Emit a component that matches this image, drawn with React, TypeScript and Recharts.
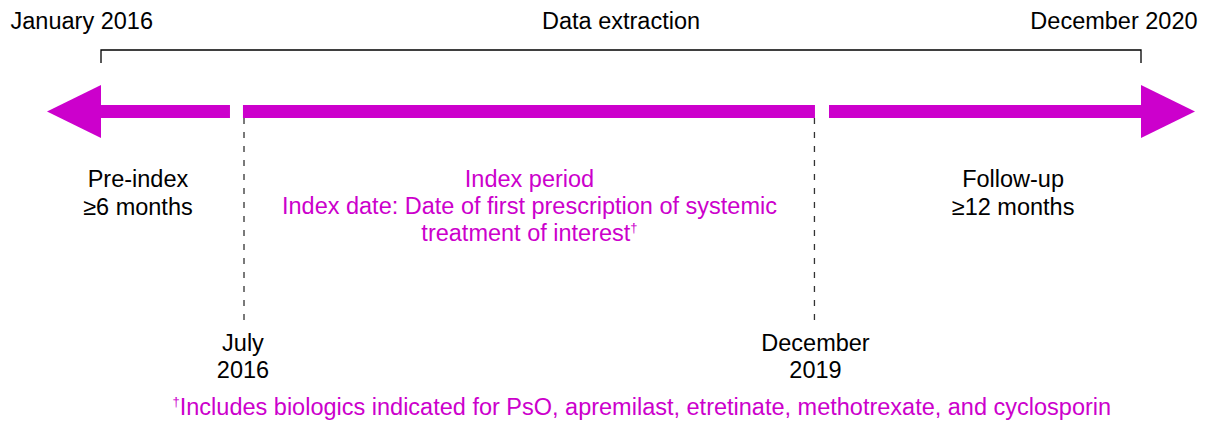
import { ComposedChart, XAxis, YAxis, Scatter } from "recharts";

// Schematic timeline: 0 = January 2016, 100 = December 2020 (not to scale)
const milestones = [
  { name: "July 2016", x: 13.75 },
  { name: "December 2019", x: 68.6 },
];

const bracket = [
  { x: 0, y: 6.3 },
  { x: 0, y: 5.0 },
  { x: 100, y: 5.0 },
  { x: 100, y: 6.3 },
];

const barSegments = [
  [0, 12.4],
  [13.65, 68.65],
  [70.0, 100],
];

const arrowHeads = [
  { x: 0, y: 11.15, dir: -1 },
  { x: 100, y: 11.15, dir: 1 },
];

const MAGENTA = "#cc00cc";

type Label = { x: number; y: number; text: string; color: string; dagger?: "pre" | "post" };

const labels: Label[] = [
  { x: -1.85, y: 2.9, text: "January 2016", color: "#000" },
  { x: 50, y: 2.9, text: "Data extraction", color: "#000" },
  { x: 97.4, y: 2.9, text: "December 2020", color: "#000" },
  { x: 3.55, y: 18.7, text: "Pre-index", color: "#000" },
  { x: 3.55, y: 21.5, text: "≥6 months", color: "#000" },
  { x: 41.2, y: 18.7, text: "Index period", color: MAGENTA },
  { x: 41.2, y: 21.4, text: "Index date: Date of first prescription of systemic", color: MAGENTA },
  { x: 41.2, y: 24.1, text: "treatment of interest", color: MAGENTA, dagger: "post" },
  { x: 87.7, y: 18.7, text: "Follow-up", color: "#000" },
  { x: 87.7, y: 21.5, text: "≥12 months", color: "#000" },
  { x: 13.65, y: 35.1, text: "July", color: "#000" },
  { x: 13.65, y: 37.8, text: "2016", color: "#000" },
  { x: 68.7, y: 35.1, text: "December", color: "#000" },
  { x: 68.7, y: 37.8, text: "2019", color: "#000" },
  {
    x: 52,
    y: 41.5,
    text: "Includes biologics indicated for PsO, apremilast, etretinate, methotrexate, and cyclosporin",
    color: MAGENTA,
    dagger: "pre",
  },
];

const FONT_SIZE = 23.5;

const noDot = () => null;

const ArrowHead = (props: any) => {
  const { cx, cy, payload } = props;
  const d = payload.dir;
  const pts = `${cx},${cy - 26.5} ${cx + d * 54},${cy} ${cx},${cy + 26.5}`;
  return <polygon points={pts} fill={MAGENTA} />;
};

const TextMark = (props: any) => {
  const { cx, cy, payload } = props;
  const p: Label = payload;
  const small = 13;
  return (
    <text
      x={cx}
      y={cy}
      textAnchor="middle"
      fill={p.color}
      fontSize={FONT_SIZE}
      fontFamily="'Liberation Sans', Arial, sans-serif"
    >
      {p.dagger === "pre" && (
        <tspan fontSize={small} dy={-9}>
          †
        </tspan>
      )}
      {p.dagger === "pre" ? <tspan dy={9}>{p.text}</tspan> : p.text}
      {p.dagger === "post" && (
        <tspan fontSize={small} dy={-9}>
          †
        </tspan>
      )}
    </text>
  );
};

export default function App() {
  return (
    <div style={{ position: "absolute", left: 0, top: 0, background: "#fff" }}>
      <ComposedChart width={1209} height={423} margin={{ top: 0, right: 0, bottom: 0, left: 0 }}>
        <XAxis type="number" dataKey="x" domain={[-9.712, 106.538]} hide allowDataOverflow />
        <YAxis type="number" dataKey="y" domain={[0, 42.3]} reversed hide allowDataOverflow />

        {/* data extraction bracket */}
        <Scatter
          data={bracket}
          line={{ stroke: "#000", strokeWidth: 1.3 }}
          shape={noDot}
          isAnimationActive={false}
        />

        {/* milestone dashed drop lines */}
        {milestones.map((m) => (
          <Scatter
            key={m.name}
            data={[
              { x: m.x, y: 11.8 },
              { x: m.x, y: 32.4 },
            ]}
            line={{ stroke: "#333", strokeWidth: 1.3, strokeDasharray: "6 8" }}
            shape={noDot}
            isAnimationActive={false}
          />
        ))}

        {/* timeline bar segments */}
        {barSegments.map(([a, b], i) => (
          <Scatter
            key={i}
            data={[
              { x: a, y: 11.15 },
              { x: b, y: 11.15 },
            ]}
            line={{ stroke: MAGENTA, strokeWidth: 13 }}
            shape={noDot}
            isAnimationActive={false}
          />
        ))}

        <Scatter data={arrowHeads} shape={ArrowHead} isAnimationActive={false} />
        <Scatter data={labels} shape={TextMark} isAnimationActive={false} />
      </ComposedChart>
    </div>
  );
}
